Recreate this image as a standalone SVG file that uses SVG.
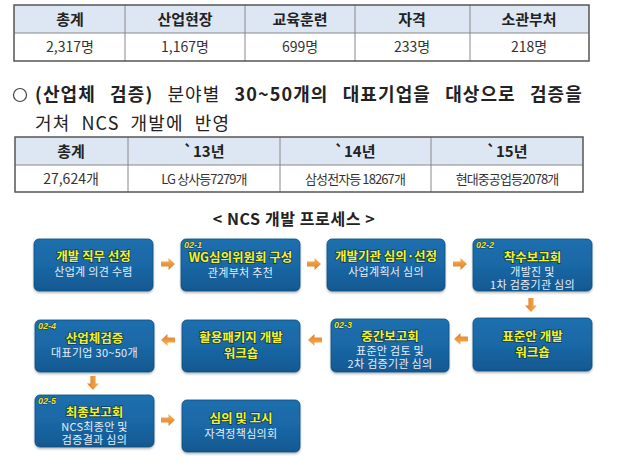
<svg xmlns="http://www.w3.org/2000/svg" width="620" height="463" viewBox="0 0 620 463">
<defs>
<linearGradient id="bg" x1="0" y1="0" x2="0" y2="1">
<stop offset="0" stop-color="#1d6fae"/>
<stop offset="0.5" stop-color="#1a68a6"/>
<stop offset="1" stop-color="#115891"/>
</linearGradient>
<linearGradient id="ag" x1="0" y1="0" x2="0" y2="1">
<stop offset="0" stop-color="#f7b45a"/>
<stop offset="1" stop-color="#e07a22"/>
</linearGradient>
<path id="arr" d="M-7,-2.6 L0.5,-2.6 L0.5,-6 L7,0 L0.5,6 L0.5,2.6 L-7,2.6 Z" fill="url(#ag)"/>
<filter id="sh" x="-10%" y="-10%" width="120%" height="130%">
<feDropShadow dx="0" dy="1.5" stdDeviation="1.2" flood-color="#000" flood-opacity="0.3"/>
</filter>
</defs>
<style>
.th{font-family:"Noto Sans CJK KR","Noto Sans",sans-serif;font-size:15px;font-weight:bold;fill:#222;text-anchor:middle}
.td{font-family:"Noto Sans CJK KR","Noto Sans",sans-serif;font-size:14px;fill:#333;text-anchor:middle}
.tdc{font-family:"Noto Sans CJK KR","Noto Sans",sans-serif;font-size:13px;fill:#333;text-anchor:middle;letter-spacing:-0.9px}
.hdr{fill:#dde7f3}
.grid{stroke:#888;stroke-width:1;fill:none}
.outer{stroke:#555;stroke-width:1.5;fill:none}
.box{fill:url(#bg);stroke:#0e4f82;stroke-width:0.8;filter:url(#sh)}
.t1{font-family:"Noto Sans CJK KR","Noto Sans",sans-serif;font-size:12.5px;font-weight:bold;fill:#f4f41c;text-anchor:middle;stroke:#0b3d6b;stroke-width:1.6px;paint-order:stroke}
.t2{font-family:"Noto Sans CJK KR","Noto Sans",sans-serif;font-size:11px;fill:#e6eef7;text-anchor:middle;letter-spacing:0.3px}
.num{font-family:"Liberation Sans",Arial,sans-serif;font-size:9px;font-weight:bold;font-style:italic;fill:#f4e21c;stroke:#0b3d6b;stroke-width:1px;paint-order:stroke}
.title{font-family:"Noto Sans CJK KR","Noto Sans",sans-serif;font-size:16px;font-weight:bold;fill:#222;text-anchor:middle;letter-spacing:0.6px}
.l1{font-family:"Noto Sans CJK KR","Noto Sans",sans-serif;font-size:18px;fill:#222;letter-spacing:1.1px;word-spacing:9px}
.b{font-weight:bold}
</style>
<rect width="620" height="463" fill="#ffffff"/>

<g id="table1">
<rect class="hdr" x="14" y="5" width="575" height="28"/>
<line class="grid" x1="14" y1="33" x2="589" y2="33"/>
<line class="grid" x1="125" y1="5" x2="125" y2="61"/>
<line class="grid" x1="245" y1="5" x2="245" y2="61"/>
<line class="grid" x1="355" y1="5" x2="355" y2="61"/>
<line class="grid" x1="470" y1="5" x2="470" y2="61"/>
<rect class="outer" x="14" y="5" width="575" height="56"/>
<text class="th" x="70" y="24.5">총계</text>
<text class="th" x="185" y="24.5">산업현장</text>
<text class="th" x="300" y="24.5">교육훈련</text>
<text class="th" x="412" y="24.5">자격</text>
<text class="th" x="529" y="24.5">소관부처</text>
<text class="td" x="70" y="52">2,317명</text>
<text class="td" x="185" y="52">1,167명</text>
<text class="td" x="300" y="52">699명</text>
<text class="td" x="412" y="52">233명</text>
<text class="td" x="529" y="52">218명</text>
</g>

<g id="bullet">
<circle cx="20" cy="95" r="6.5" fill="none" stroke="#444" stroke-width="1.2"/>
<text class="l1" x="35" y="101"><tspan class="b">(산업체 검증)</tspan> 분야별 <tspan class="b">30~50개의 대표기업을 대상으로 검증을</tspan></text>
<text class="l1" x="35" y="130" fill="#444" style="word-spacing:6px">거쳐 NCS 개발에 반영</text>
</g>

<g id="table2">
<rect class="hdr" x="15" y="137" width="568" height="28"/>
<line class="grid" x1="15" y1="165" x2="583" y2="165"/>
<line class="grid" x1="128" y1="137" x2="128" y2="192"/>
<line class="grid" x1="280" y1="137" x2="280" y2="192"/>
<line class="grid" x1="431" y1="137" x2="431" y2="192"/>
<rect class="outer" x="15" y="137" width="568" height="55"/>
<text class="th" x="71" y="156.5">총계</text>
<text class="th" x="204" y="156.5">`13년</text>
<text class="th" x="355" y="156.5">`14년</text>
<text class="th" x="507" y="156.5">`15년</text>
<text class="td" x="71" y="184">27,624개</text>
<text class="tdc" x="204" y="184">LG 상사등7279개</text>
<text class="tdc" x="355" y="184">삼성전자등 18267개</text>
<text class="tdc" x="507" y="184">현대중공업등2078개</text>
</g>

<text class="title" x="294" y="225">&lt; NCS 개발 프로세스 &gt;</text>

<g id="n1">
<rect class="box" x="34" y="239" width="119" height="52" rx="5"/>
<text class="t1" x="93.5" y="261">개발 직무 선정</text>
<text class="t2" x="93.5" y="276">산업계 의견 수렴</text>
</g>
<g id="n2">
<rect class="box" x="181" y="239" width="119" height="52" rx="5"/>
<text class="num" x="184" y="247.5">02-1</text>
<text class="t1" x="240.5" y="262">WG심의위원회 구성</text>
<text class="t2" x="240.5" y="277">관계부처 추천</text>
</g>
<g id="n3">
<rect class="box" x="327" y="239" width="118" height="52" rx="5"/>
<text class="t1" x="386" y="261">개발기관 심의·선정</text>
<text class="t2" x="386" y="276">사업계획서 심의</text>
</g>
<g id="n4">
<rect class="box" x="473" y="239" width="119" height="52" rx="5"/>
<text class="num" x="476" y="247.5">02-2</text>
<text class="t1" x="532.5" y="262">착수보고회</text>
<text class="t2" x="532.5" y="276">개발진 및</text>
<text class="t2" x="532.5" y="289">1차 검증기관 심의</text>
</g>
<g id="n5">
<rect class="box" x="473" y="318" width="119" height="53" rx="5"/>
<text class="t1" x="532.5" y="341">표준안 개발</text>
<text class="t1" x="532.5" y="357">워크숍</text>
</g>
<g id="n6">
<rect class="box" x="331" y="319" width="118" height="53" rx="5"/>
<text class="num" x="334" y="327.5">02-3</text>
<text class="t1" x="390" y="341">중간보고회</text>
<text class="t2" x="390" y="355">표준안 검토 및</text>
<text class="t2" x="390" y="368">2차 검증기관 심의</text>
</g>
<g id="n7">
<rect class="box" x="182" y="320" width="118" height="52" rx="5"/>
<text class="t1" x="241" y="342">활용패키지 개발</text>
<text class="t1" x="241" y="358">워크숍</text>
</g>
<g id="n8">
<rect class="box" x="35" y="320" width="119" height="52" rx="5"/>
<text class="num" x="38" y="328.5">02-4</text>
<text class="t1" x="94.5" y="343">산업체검증</text>
<text class="t2" x="94.5" y="357">대표기업 30~50개</text>
</g>
<g id="n9">
<rect class="box" x="35" y="395" width="119" height="52" rx="5"/>
<text class="num" x="38" y="403.5">02-5</text>
<text class="t1" x="94.5" y="417">최종보고회</text>
<text class="t2" x="94.5" y="431">NCS최종안 및</text>
<text class="t2" x="94.5" y="444">검증결과 심의</text>
</g>
<g id="n10">
<rect class="box" x="182" y="400" width="118" height="52" rx="5"/>
<text class="t1" x="241" y="423">심의 및 고시</text>
<text class="t2" x="241" y="438">자격정책심의회</text>
</g>

<g id="connectors">
<use href="#arr" transform="translate(168,264)"/>
<use href="#arr" transform="translate(314,264)"/>
<use href="#arr" transform="translate(460,264)"/>
<use href="#arr" transform="translate(531,305) rotate(90)"/>
<use href="#arr" transform="translate(461,339) rotate(180)"/>
<use href="#arr" transform="translate(315,340) rotate(180)"/>
<use href="#arr" transform="translate(168,340) rotate(180)"/>
<use href="#arr" transform="translate(93,383) rotate(90)"/>
<use href="#arr" transform="translate(168,420)"/>
</g>
</svg>
